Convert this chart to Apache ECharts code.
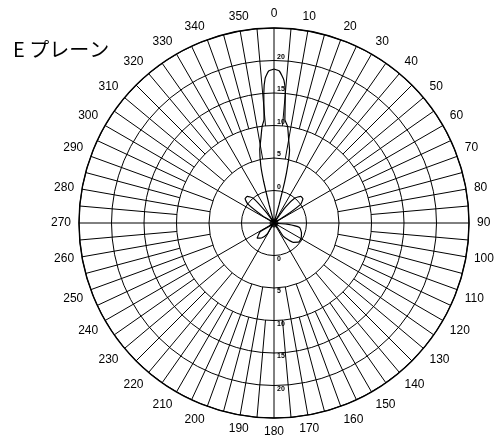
<!DOCTYPE html>
<html>
<head>
<meta charset="utf-8">
<script src="https://cdn.jsdelivr.net/npm/echarts@6/dist/echarts.min.js"></script>
<style>
html,body{margin:0;padding:0;background:#fff;}
#c{width:497px;height:436px;}
</style>
</head>
<body>
<div id="c"></div>
<script>
// Data
var titleText = 'E プレーン';
var radiusMin = -5, radiusMax = 25, radiusStep = 5;
var radiusLabels = [0, 5, 10, 15, 20];
var patternAngles = [0, 2, 4, 5, 6, 8, 10, 12, 13.5, 14.5, 15.5, 16.5, 33, 36, 40, 45, 50, 55, 58, 62, 90, 95, 100, 110, 120, 128, 135, 145, 155, 205, 212, 220, 228, 238, 250, 298, 302, 306, 310, 315, 320, 324, 330, 344, 345, 346, 347, 349, 351, 353, 354.5, 355.5, 356.5, 358, 360];
var patternValues = [18.7, 18.4, 17, 15, 11, 10, 8, 6.5, 4, 1.5, -2, -5, -5, -2, 0, 0.8, 0.8, 0, -3, -5, -5, -3, -1, -0.5, -0.2, -0.2, -0.8, -2.5, -5, -5, -3, -2, -1.5, -2.5, -5, -5, -3, 0, 0.8, 0.8, 0, -3, -5, -5, -2, 1.5, 4, 6.5, 8, 10, 11, 15, 17.3, 18.4, 18.7];

var CX = 274, CY = 223, R = 195;
var font = 'Liberation Sans';
var lineStyle = {color: '#000', width: 1};
function rOf(v) { return R * (v - radiusMin) / (radiusMax - radiusMin); }

function hiddenRadius(i) {
  return {polarIndex: i, min: 0, max: 1, axisLine: {show: false}, axisTick: {show: false}, axisLabel: {show: false}, splitLine: {show: false}};
}
function spokes(i, interval) {
  return {polarIndex: i, type: 'value', min: 0, max: 360, interval: interval, startAngle: 90, clockwise: true,
    axisLine: {show: false}, axisTick: {show: false}, axisLabel: {show: false},
    splitLine: {show: true, lineStyle: lineStyle}};
}

var data = patternAngles.map(function (a, i) { return [patternValues[i], a]; });
var labelFmt = function (v) { return radiusLabels.indexOf(v) >= 0 ? String(v) : ''; };

var option = {
  animation: false,
  backgroundColor: '#fff',
  title: {text: titleText, left: 8, top: 34, textStyle: {fontFamily: 'Noto Sans CJK JP', fontSize: 20, fontWeight: 'normal', color: '#000'}},
  polar: [
    {center: [CX, CY], radius: [0, R]},              // 0: rings, outer circle, angle labels, series
    {center: [CX, CY], radius: [0, rOf(5)]},         // 1: 30° spokes (inner)
    {center: [CX, CY], radius: [rOf(5), rOf(10)]},   // 2: 10° spokes
    {center: [CX, CY], radius: [rOf(10), R]},        // 3: 5° spokes
    {center: [CX, CY], radius: [0, R]}               // 4: lower radius labels
  ],
  angleAxis: [
    {polarIndex: 0, type: 'value', min: 0, max: 360, interval: 10, startAngle: 90, clockwise: true,
      axisLine: {show: true, lineStyle: {color: '#000', width: 1.4}}, axisTick: {show: false},
      axisLabel: {show: true, margin: 8, color: '#000', fontFamily: font, fontSize: 12,
        formatter: function (v) { return v === 360 ? '' : String(v); }},
      splitLine: {show: false}},
    spokes(1, 30),
    spokes(2, 10),
    spokes(3, 5),
    {polarIndex: 4, type: 'value', min: 0, max: 360, startAngle: 270, clockwise: true,
      axisLine: {show: false}, axisTick: {show: false}, axisLabel: {show: false}, splitLine: {show: false}}
  ],
  radiusAxis: [
    {polarIndex: 0, type: 'value', min: radiusMin, max: radiusMax, interval: radiusStep,
      axisLine: {show: false}, axisTick: {show: false},
      axisLabel: {show: true, margin: -3, align: 'left', verticalAlign: 'bottom', color: '#000', fontFamily: font, fontSize: 7, fontWeight: 'bold', formatter: labelFmt},
      splitLine: {show: true, lineStyle: lineStyle}},
    hiddenRadius(1),
    hiddenRadius(2),
    hiddenRadius(3),
    {polarIndex: 4, type: 'value', min: radiusMin, max: radiusMax, interval: radiusStep,
      axisLine: {show: false}, axisTick: {show: false}, splitLine: {show: false},
      axisLabel: {show: true, margin: 3, align: 'left', verticalAlign: 'top', color: '#000', fontFamily: font, fontSize: 7, fontWeight: 'bold', formatter: labelFmt}}
  ],
  series: [
    {type: 'line', coordinateSystem: 'polar', polarIndex: 0, data: data, symbol: 'none', smooth: 0.15,
      lineStyle: {color: '#000', width: 1.2}, silent: true},
    {type: 'scatter', coordinateSystem: 'polar', polarIndex: 0, data: [[radiusMin, 0]], symbol: 'circle', symbolSize: 9,
      itemStyle: {color: '#000'}, silent: true}
  ]
};
var chart = echarts.init(document.getElementById('c'));
chart.setOption(option);
</script>
</body>
</html>
